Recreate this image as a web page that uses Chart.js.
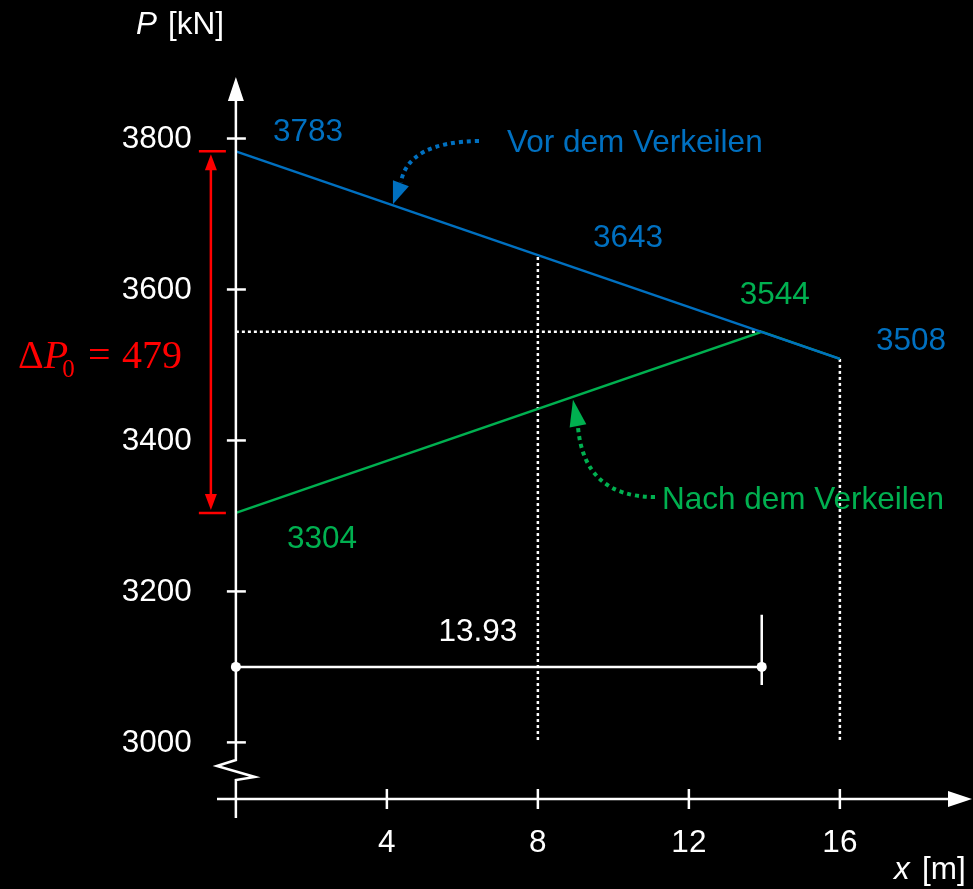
<!DOCTYPE html>
<html>
<head>
<meta charset="utf-8">
<script src="https://cdn.jsdelivr.net/npm/chart.js@4.4.1/dist/chart.umd.min.js"></script>
<style>
html, body { margin: 0; padding: 0; background: #000; }
</style>
</head>
<body>
<canvas id="myChart" width="973" height="889"></canvas>
<script>
// data
var xTicks = [4, 8, 12, 16];
var yTicks = [3000, 3200, 3400, 3600, 3800];
var beforeX = [0, 16];
var beforeP = [3783, 3508];
var afterX = [0, 13.93, 16];
var afterP = [3304, 3544, 3508];
var markX = [8];
var markP = [3643];
var crossX = 13.93;
var crossP = 3544;
var deltaP0 = 479;

var BLUE = '#0070C0', GREEN = '#00B050', RED = '#FF0000', WHITE = '#FFFFFF';
var SANS = '"Liberation Sans", Arial, Helvetica, sans-serif';
var SERIF = '"Liberation Serif", "Times New Roman", serif';
var FS = 31.5;

function pts(xs, ys) {
    return xs.map(function (x, i) { return { x: x, y: ys[i] }; });
}

var dimP = 3100; // level of the 13.93 dimension line
var bottomP = 3000;

// chart.js paints the first dataset last (on top)
var datasets = [
    // the two force curves, blue above green
    { data: pts(beforeX, beforeP), borderColor: BLUE, borderWidth: 2.5, pointRadius: 0 },
    { data: pts(afterX, afterP), borderColor: GREEN, borderWidth: 2.5, pointRadius: 0 },
    // dimension line
    { data: [{ x: 0, y: dimP }, { x: crossX, y: dimP }], borderColor: WHITE, borderWidth: 2.5, pointRadius: 5, pointBackgroundColor: WHITE, pointBorderWidth: 0 },
    { data: [{ x: crossX, y: dimP + 69 }, { x: crossX, y: dimP - 24 }], borderColor: WHITE, borderWidth: 2.5, pointRadius: 0 },
    // dotted helper lines
    { data: [{ x: 0, y: crossP }, { x: crossX, y: crossP }], borderColor: WHITE, borderWidth: 2.5, borderDash: [3, 3], pointRadius: 0 },
    { data: [{ x: markX[0], y: markP[0] }, { x: markX[0], y: bottomP }], borderColor: WHITE, borderWidth: 2.5, borderDash: [3, 3], pointRadius: 0 },
    { data: [{ x: beforeX[1], y: beforeP[1] }, { x: beforeX[1], y: bottomP }], borderColor: WHITE, borderWidth: 2.5, borderDash: [3, 3], pointRadius: 0 }
];

function arrowHead(c, tx, ty, bx, by, half) {
    var dx = tx - bx, dy = ty - by, len = Math.sqrt(dx * dx + dy * dy);
    var nx = -dy / len * half, ny = dx / len * half;
    c.beginPath();
    c.moveTo(tx, ty);
    c.lineTo(bx + nx, by + ny);
    c.lineTo(bx - nx, by - ny);
    c.closePath();
    c.fill();
}

function lerp(xs, ys, x) {
    for (var i = 0; i < xs.length - 1; i++) {
        if (x >= xs[i] && x <= xs[i + 1]) {
            return ys[i] + (ys[i + 1] - ys[i]) * (x - xs[i]) / (xs[i + 1] - xs[i]);
        }
    }
    return ys[ys.length - 1];
}

var drawing = {
    id: 'drawing',
    afterDraw: function (chart) {
        var c = chart.ctx, sx = chart.scales.x, sy = chart.scales.y;
        var x0 = sx.getPixelForValue(0);
        var yAx = sy.getPixelForValue(sy.min);
        var xEnd = sx.getPixelForValue(sx.max);
        var yEnd = sy.getPixelForValue(sy.max);
        c.save();
        c.strokeStyle = WHITE;
        c.fillStyle = WHITE;
        c.lineWidth = 2.5;

        // x axis
        c.beginPath();
        c.moveTo(sx.getPixelForValue(sx.min), yAx);
        c.lineTo(xEnd - 20, yAx);
        c.stroke();
        arrowHead(c, xEnd, yAx, xEnd - 24, yAx, 8);

        // y axis with break
        c.beginPath();
        c.moveTo(x0, yEnd + 20);
        c.lineTo(x0, yAx - 39);
        c.lineTo(x0 - 19, yAx - 33);
        c.lineTo(x0 + 19, yAx - 22);
        c.lineTo(x0, yAx - 19);
        c.lineTo(x0, yAx + 19);
        c.stroke();
        arrowHead(c, x0, yEnd, x0, yEnd + 24, 8);

        // ticks
        c.font = FS + 'px ' + SANS;
        c.textBaseline = 'middle';
        c.textAlign = 'right';
        yTicks.forEach(function (v) {
            var y = sy.getPixelForValue(v);
            c.beginPath(); c.moveTo(x0 - 9, y); c.lineTo(x0 + 10, y); c.stroke();
            c.fillText(String(v), x0 - 44, y + 1);
        });
        c.textAlign = 'center';
        xTicks.forEach(function (v) {
            var x = sx.getPixelForValue(v);
            c.beginPath(); c.moveTo(x, yAx - 10); c.lineTo(x, yAx + 10); c.stroke();
            c.fillText(String(v), x, yAx + 44);
        });

        // axis titles
        c.textAlign = 'left';
        c.font = 'italic ' + FS + 'px ' + SANS;
        c.fillText('P', x0 - 100, 25);
        c.font = FS + 'px ' + SANS;
        c.fillText('[kN]', x0 - 68, 25);
        c.font = 'italic ' + FS + 'px ' + SANS;
        c.fillText('x', 894, 870);
        c.font = FS + 'px ' + SANS;
        c.fillText('[m]', 922, 870);

        // value labels
        function lab(txt, col, x, y, dx, dy) {
            c.fillStyle = col;
            c.fillText(txt, sx.getPixelForValue(x) + dx, sy.getPixelForValue(y) + dy);
        }
        lab(String(beforeP[0]), BLUE, beforeX[0], beforeP[0], 37, -19);
        lab(String(markP[0]), BLUE, markX[0], markP[0], 55, -19);
        lab(String(beforeP[1]), BLUE, beforeX[1], beforeP[1], 36, -18);
        lab(String(afterP[1]), GREEN, afterX[1], afterP[1], -22, -36);
        lab(String(afterP[0]), GREEN, afterX[0], afterP[0], 51, 26);
        c.fillStyle = WHITE;
        c.textAlign = 'center';
        c.fillText(crossX.toFixed(2), x0 + 242, sy.getPixelForValue(dimP) - 35);
        c.textAlign = 'left';

        // curve names with dotted arrows
        c.fillStyle = BLUE;
        c.fillText('Vor dem Verkeilen', 507, 143);
        c.fillStyle = GREEN;
        c.fillText('Nach dem Verkeilen', 662, 500);

        var bx = 4.16, tipB = { x: sx.getPixelForValue(bx), y: sy.getPixelForValue(lerp(beforeX, beforeP, bx)) - 1 };
        var gx = 8.93, tipG = { x: sx.getPixelForValue(gx), y: sy.getPixelForValue(lerp(afterX, afterP, gx)) + 3 };
        c.lineWidth = 4;
        c.setLineDash([4, 4]);
        c.strokeStyle = BLUE;
        c.beginPath();
        c.moveTo(479, 141);
        c.quadraticCurveTo(408, 142, tipB.x + 8, tipB.y - 22);
        c.stroke();
        c.strokeStyle = GREEN;
        c.beginPath();
        c.moveTo(655, 497);
        c.quadraticCurveTo(584, 497, tipG.x + 5, tipG.y + 27);
        c.stroke();
        c.setLineDash([]);
        c.fillStyle = BLUE;
        arrowHead(c, tipB.x, tipB.y, tipB.x + 8, tipB.y - 21, 8.5);
        c.fillStyle = GREEN;
        arrowHead(c, tipG.x, tipG.y, tipG.x + 5, tipG.y + 26, 8.5);

        // red delta P0 dimension
        var rx = x0 - 25;
        var rTop = sy.getPixelForValue(beforeP[0]), rBot = sy.getPixelForValue(afterP[0]);
        c.strokeStyle = RED;
        c.fillStyle = RED;
        c.lineWidth = 2.5;
        c.beginPath();
        c.moveTo(x0 - 37, rTop); c.lineTo(x0 - 10, rTop);
        c.moveTo(x0 - 37, rBot); c.lineTo(x0 - 10, rBot);
        c.moveTo(rx, rTop + 14); c.lineTo(rx, rBot - 14);
        c.stroke();
        arrowHead(c, rx, rTop + 3, rx, rTop + 19, 6);
        arrowHead(c, rx, rBot - 3, rx, rBot - 19, 6);

        // ΔP0 = 479
        var by = 368, px = 18;
        c.textBaseline = 'alphabetic';
        c.font = '40px ' + SERIF;
        c.fillText('\u0394', px, by);
        px += c.measureText('\u0394').width;
        c.font = 'italic 40px ' + SERIF;
        c.fillText('P', px, by);
        px += c.measureText('P').width - 6;
        c.font = '25px ' + SERIF;
        c.fillText('0', px, by + 9);
        c.font = '40px ' + SERIF;
        c.fillText('=', 88, by);
        c.fillText(String(deltaP0), 122, by);

        c.restore();
    }
};

var ctx = document.getElementById('myChart');
var chart = new Chart(ctx, {
    type: 'scatter',
    data: { datasets: datasets },
    options: {
        responsive: false,
        animation: false,
        devicePixelRatio: 1,
        showLine: true,
        layout: { autoPadding: false, padding: { left: 217, right: 1, top: 77, bottom: 90 } },
        scales: {
            x: { type: 'linear', min: -0.5, max: 19.5, display: false },
            y: { type: 'linear', min: 2925, max: 3881.5, display: false }
        },
        plugins: {
            legend: { display: false },
            tooltip: { enabled: false }
        }
    },
    plugins: [drawing]
});
</script>
</body>
</html>
